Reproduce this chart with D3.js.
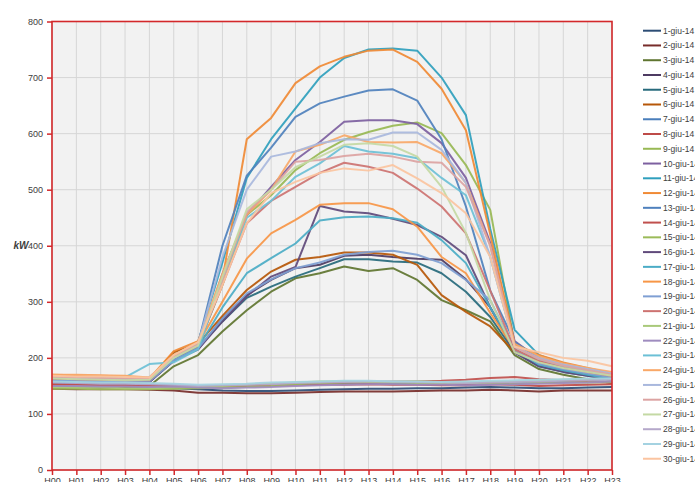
<!DOCTYPE html>
<html>
<head>
<meta charset="utf-8">
<script src="https://cdn.jsdelivr.net/npm/d3@7/dist/d3.min.js"></script>
<style>
    body { margin: 0; background: #fff; }
    svg { display: block; }
    text { font-family: "Liberation Sans", Arial, sans-serif; fill: #404040; }
</style>
</head>
<body>
<div id="chart"></div>
<script>
var hours = ["H00","H01","H02","H03","H04","H05","H06","H07","H08","H09","H10","H11",
             "H12","H13","H14","H15","H16","H17","H18","H19","H20","H21","H22","H23"];

var yTicks = [0, 100, 200, 300, 400, 500, 600, 700, 800];

var days = ["1-giu-14","2-giu-14","3-giu-14","4-giu-14","5-giu-14","6-giu-14","7-giu-14","8-giu-14",
            "9-giu-14","10-giu-14","11-giu-14","12-giu-14","13-giu-14","14-giu-14","15-giu-14",
            "16-giu-14","17-giu-14","18-giu-14","19-giu-14","20-giu-14","21-giu-14","22-giu-14",
            "23-giu-14","24-giu-14","25-giu-14","26-giu-14","27-giu-14","28-giu-14","29-giu-14","30-giu-14"];

var colors = ["#2c4d75","#772c2a","#5f7530","#4d3b62","#276a7c","#b65708",
              "#4a7ebb","#be4b48","#98b954","#7d60a0","#2f9fbd","#f08a35",
              "#4f81bd","#c0504d","#9bbb59","#604a7b","#4bacc6","#f79646",
              "#7f9fd3","#cd7371","#a9c97a","#9f8cbf","#6cc0d6","#f9a868",
              "#a9b8dd","#dca3a2","#c4d9a4","#b5a8ca","#a4d2e1","#fbc4a0"];

// kW per hour, one array per day
var giu01 = [150,149,148,148,147,146,144,142,141,141,142,143,144,145,145,146,146,147,148,147,146,146,147,148];
var giu02 = [145,144,144,144,143,142,138,138,137,137,138,139,140,140,140,141,142,142,143,142,140,142,142,142];
var giu03 = [150,149,149,148,150,185,205,247,285,318,342,351,363,355,360,339,303,285,265,205,180,170,162,155];
var giu04 = [158,156,155,155,157,195,215,270,312,339,360,366,382,384,380,377,375,340,290,215,190,178,170,162];
var giu05 = [160,159,158,157,158,195,218,265,307,327,345,360,376,376,372,370,351,318,273,210,185,175,168,160];
var giu06 = [165,164,163,162,160,210,225,275,321,354,375,380,388,388,384,366,312,282,256,210,195,182,175,165];
var giu07 = [155,154,153,152,152,151,149,150,151,152,153,154,155,156,155,154,153,152,153,155,156,157,158,158];
var giu08 = [152,151,150,150,149,148,147,148,149,150,151,152,152,153,152,152,151,151,153,152,150,151,152,153];
var giu09 = [162,160,159,158,160,200,222,330,455,490,535,565,589,603,614,620,601,544,464,225,200,185,176,168];
var giu10 = [160,159,158,157,158,198,220,350,455,505,553,585,621,624,624,617,583,521,405,230,198,185,178,170];
var giu11 = [165,164,163,163,165,205,228,370,521,590,645,700,735,750,752,748,700,633,430,250,205,190,180,170];
var giu12 = [170,169,168,167,163,212,230,340,590,628,690,720,737,748,750,728,680,606,420,225,205,192,182,172];
var giu13 = [163,162,161,160,162,200,225,400,525,575,630,654,666,677,679,659,590,470,320,228,200,188,178,170];
var giu14 = [153,152,151,151,150,149,148,150,151,152,154,155,156,157,157,158,159,161,164,166,162,160,158,156];
var giu15 = [145,145,144,144,144,145,146,147,148,150,153,155,156,157,158,158,157,156,155,154,155,156,156,157];
var giu16 = [158,157,156,155,157,195,215,265,310,345,362,471,461,458,448,437,416,383,290,210,185,175,168,160];
var giu17 = [160,159,158,158,160,198,218,290,351,378,404,445,451,452,449,441,410,369,290,215,188,178,170,162];
var giu18 = [168,167,166,165,163,205,225,300,377,422,446,473,476,476,465,434,380,351,280,215,195,182,175,167];
var giu19 = [160,159,158,157,158,195,217,270,315,340,360,370,384,389,391,384,369,339,303,215,190,180,172,165];
var giu20 = [163,162,161,160,160,200,222,330,440,480,505,530,548,541,530,502,470,422,320,215,195,183,175,168];
var giu21 = [148,147,147,146,146,147,148,150,152,154,156,158,158,157,156,155,155,156,157,158,160,161,162,162];
var giu22 = [150,150,149,149,148,149,147,146,147,148,150,151,152,153,153,152,152,151,152,153,154,155,156,158];
var giu23 = [165,165,165,165,189,192,215,340,450,480,523,547,578,568,564,556,521,490,380,220,198,186,178,170];
var giu24 = [170,170,169,168,165,205,228,350,455,500,568,580,597,585,584,585,565,512,400,225,203,190,182,175];
var giu25 = [165,164,163,162,162,200,225,380,500,559,568,583,590,589,602,602,571,512,380,220,200,188,180,172];
var giu26 = [166,165,164,163,163,202,224,340,460,500,550,553,560,564,559,550,548,505,400,220,198,186,178,170];
var giu27 = [163,162,161,160,161,200,222,345,465,500,540,559,580,583,578,559,505,423,303,210,192,182,175,168];
var giu28 = [156,155,154,154,153,152,150,151,152,153,155,156,157,158,158,157,156,155,156,157,158,159,160,161];
var giu29 = [158,157,156,156,155,154,152,153,154,156,157,158,159,159,158,158,157,158,159,160,161,162,163,163];
var giu30 = [168,167,167,166,165,205,228,330,440,494,514,530,538,534,544,520,494,458,380,220,210,200,195,185];

var series = [giu01,giu02,giu03,giu04,giu05,giu06,giu07,giu08,giu09,giu10,
              giu11,giu12,giu13,giu14,giu15,giu16,giu17,giu18,giu19,giu20,
              giu21,giu22,giu23,giu24,giu25,giu26,giu27,giu28,giu29,giu30];

var W = 695, H = 482;
var plot = {left: 52, right: 612, top: 21.5, bottom: 470};
var red = "#d3282b";

var svg = d3.select("#chart")
    .append("svg")
    .attr("width", W)
    .attr("height", H);

var x = d3.scalePoint()
    .domain(hours)
    .range([plot.left, plot.right]);

var y = d3.scaleLinear()
    .domain([0, 800])
    .range([plot.bottom, plot.top]);

// plot background
svg.append("rect")
    .attr("x", plot.left)
    .attr("y", plot.top)
    .attr("width", plot.right - plot.left)
    .attr("height", plot.bottom - plot.top)
    .attr("fill", "#f2f2f2");

// grid
svg.append("g")
    .selectAll("line")
    .data(hours)
    .enter().append("line")
    .attr("x1", d => x(d)).attr("x2", d => x(d))
    .attr("y1", plot.top).attr("y2", plot.bottom)
    .attr("stroke", "#d6d6d6")
    .attr("stroke-width", 1);

svg.append("g")
    .selectAll("line")
    .data(yTicks)
    .enter().append("line")
    .attr("x1", plot.left).attr("x2", plot.right)
    .attr("y1", d => y(d)).attr("y2", d => y(d))
    .attr("stroke", "#d6d6d6")
    .attr("stroke-width", 1);

// series
var line = d3.line()
    .x((d, i) => x(hours[i]))
    .y(d => y(d));

svg.append("g")
    .selectAll("path")
    .data(series)
    .enter().append("path")
    .attr("d", line)
    .attr("fill", "none")
    .attr("stroke", (d, i) => colors[i])
    .attr("stroke-width", 2)
    .attr("stroke-linejoin", "round")
    .attr("stroke-opacity", 0.92);

// axes
var yAxis = svg.append("g")
    .attr("transform", "translate(" + plot.left + ",0)")
    .call(d3.axisLeft(y).tickValues(yTicks).tickSize(5).tickPadding(4));

var xAxis = svg.append("g")
    .attr("transform", "translate(0," + plot.bottom + ")")
    .call(d3.axisBottom(x).tickSize(5).tickPadding(3));

[yAxis, xAxis].forEach(g => {
    g.select(".domain").remove();
    g.selectAll(".tick line").attr("stroke", red).attr("stroke-width", 1.5);
    g.selectAll(".tick text")
        .attr("fill", "#404040")
        .style("font-family", "'Liberation Sans', Arial, sans-serif")
        .style("font-size", "9px");
});

// red plot border
svg.append("rect")
    .attr("x", plot.left)
    .attr("y", plot.top)
    .attr("width", plot.right - plot.left)
    .attr("height", plot.bottom - plot.top)
    .attr("fill", "none")
    .attr("stroke", red)
    .attr("stroke-width", 1.6);

svg.append("text")
    .attr("x", 21)
    .attr("y", 249)
    .attr("text-anchor", "middle")
    .style("font-size", "10px")
    .style("font-style", "italic")
    .style("font-weight", "bold")
    .text("kW");

// legend
var legend = svg.append("g")
    .selectAll("g")
    .data(days)
    .enter().append("g")
    .attr("transform", (d, i) => "translate(643," + (30.7 + i * 14.76) + ")");

legend.append("line")
    .attr("x1", 0).attr("x2", 18)
    .attr("stroke", (d, i) => colors[i])
    .attr("stroke-width", 2);

legend.append("text")
    .attr("x", 20)
    .attr("dy", "0.35em")
    .style("font-size", "8.5px")
    .text(d => d);
</script>
</body>
</html>
